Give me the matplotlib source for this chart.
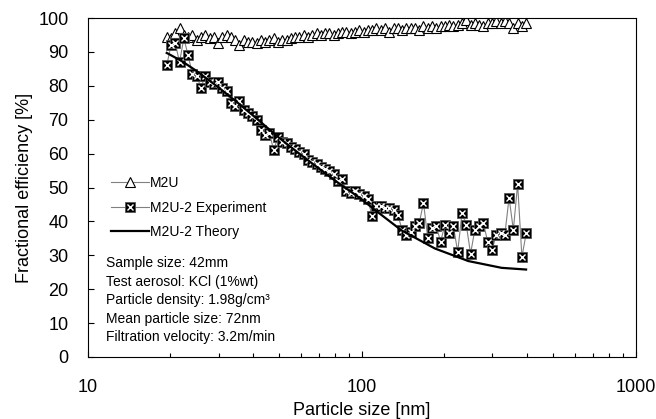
import matplotlib
matplotlib.use('Agg')
import matplotlib.pyplot as plt
from matplotlib.legend_handler import HandlerTuple
from matplotlib.lines import Line2D
from matplotlib.ticker import NullFormatter, LogLocator

plt.rcParams['font.family'] = ['Liberation Sans', 'DejaVu Sans']

# particle size channels [nm]
size_nm = [19.40, 20.11, 20.85, 21.61, 22.40, 23.22, 24.07, 24.96, 25.87, 26.82,
           27.80, 28.82, 29.87, 30.97, 32.10, 33.28, 34.50, 35.76, 37.07, 38.43,
           39.84, 41.30, 42.81, 44.38, 46.00, 47.69, 49.44, 51.25, 53.12, 55.07,
           57.09, 59.18, 61.35, 63.59, 65.92, 68.34, 70.84, 73.44, 76.13, 78.92,
           81.81, 84.81, 87.91, 91.14, 94.47, 97.94, 101.5, 105.2, 109.1, 113.1,
           117.2, 121.5, 126.0, 130.6, 135.4, 140.3, 145.5, 150.8, 156.3, 162.1,
           168.0, 174.2, 180.5, 187.2, 194.0, 201.1, 208.5, 216.1, 224.0, 232.2,
           240.7, 249.6, 258.7, 268.2, 278.0, 288.2, 298.7, 309.7, 321.0, 332.8,
           345.0, 357.6, 370.7, 384.3, 398.4]

# M2U efficiency [%]
m2u = [94.5, 94, 95.5, 97, 95, 94.5, 95, 93.5, 94.5, 95,
       94, 94.5, 92.5, 94.5, 95, 94.5, 93.5, 92, 93.5, 93,
       93, 92.5, 93.5, 93, 93.5, 94, 93, 93.5, 93.5, 94,
       94.5, 94.5, 95, 94.5, 95, 95.5, 95, 95.5, 95.5, 95,
       95.5, 96, 96, 95.5, 96, 96.5, 96, 96.5, 96.5, 97,
       96.5, 97, 96, 97, 97, 96.5, 97, 97, 97, 96.5,
       97.5, 97, 97.5, 97, 97.5, 97.5, 98, 97.5, 98, 98.5,
       99.5, 98, 98.5, 98, 97.5, 98.5, 98.5, 99, 98.5, 99,
       98.5, 97, 98.5, 97.5, 98.5]

# M2U-2 experiment efficiency [%]
m2u2_exp = [86, 92, 92.5, 87, 94, 89, 83.5, 83, 79.5, 83,
            81, 80.5, 81, 79.5, 78.5, 75, 74, 75.5, 73, 72,
            71, 70, 67, 65.5, 66, 61, 65, 63.5, 63, 62,
            61.5, 60.5, 60, 58, 57.5, 57, 56, 55.5, 55, 54,
            52, 52.5, 49, 48.5, 49, 48, 47.5, 46.5, 41.5, 44.5,
            44.5, 44, 44, 43.5, 42, 37.5, 36, 37, 38.5, 39.5,
            45.5, 35, 38, 38.5, 34, 39, 36.5, 38.5, 31, 42.5,
            39, 30.5, 37.5, 38.5, 39.5, 34, 31.5, 36, 36.5, 36,
            47, 37.5, 51, 29.5, 36.5]

# M2U-2 theory
theory_nm = [19.4, 22, 25, 30, 35, 40, 50, 60, 70, 80, 100, 112, 140, 185, 245, 324, 398]
theory = [89.7, 87.3, 84.3, 79.5, 75.2, 71.3, 64.6, 59.6, 55.5, 52.0, 46.5, 43.3, 37.3, 32.0, 28.3, 26.3, 25.8]

info_lines = ['Sample size: 42mm',
              'Test aerosol: KCl (1%wt)',
              'Particle density: 1.98g/cm\u00b3',
              'Mean particle size: 72nm',
              'Filtration velocity: 3.2m/min']

fig = plt.figure(figsize=(6.56, 4.19), dpi=100)
ax = fig.add_axes([0.134, 0.148, 0.835, 0.809])

sq_style = dict(marker='s', ms=7.5, mfc='black', mec='#555555', mew=0.6)
x_style = dict(marker='x', ms=4.5, mec='white', mew=1.0)

h_m2u, = ax.plot(size_nm, m2u, color='#808080', lw=0.8, marker='^', ms=7,
                 mfc='white', mec='black', mew=0.8)
ax.plot(size_nm, m2u2_exp, color='#808080', lw=0.8)
ax.plot(size_nm, m2u2_exp, ls='none', **sq_style)
ax.plot(size_nm, m2u2_exp, ls='none', **x_style)
h_th, = ax.plot(theory_nm, theory, color='black', lw=1.6)

h_exp_line = Line2D([], [], color='#808080', lw=0.8, **sq_style)
h_exp_x = Line2D([], [], ls='none', **x_style)

ax.legend([h_m2u, (h_exp_line, h_exp_x), h_th],
          ['M2U', 'M2U-2 Experiment', 'M2U-2 Theory'],
          handler_map={tuple: HandlerTuple(ndivide=1, pad=0)},
          loc='upper left', bbox_to_anchor=(0.02, 0.57), frameon=False,
          fontsize=10, numpoints=1, handlelength=2.7, handletextpad=0.1,
          labelspacing=0.75)

ax.text(0.033, 0.297, '\n'.join(info_lines), transform=ax.transAxes,
        fontsize=10, va='top', ha='left', linespacing=1.4)

ax.set_xscale('log')
ax.set_xlim(10, 1000)
ax.set_ylim(0, 100)
ax.set_yticks(range(0, 101, 10))
ax.set_xticks([10, 100, 1000])
ax.set_xticklabels(['10', '100', '1000'])
ax.xaxis.set_minor_locator(LogLocator(base=10, subs=range(2, 10)))
ax.xaxis.set_minor_formatter(NullFormatter())
ax.tick_params(axis='both', which='major', direction='in', length=4,
               labelsize=13, width=0.8)
ax.tick_params(axis='x', which='minor', direction='in', length=3, width=0.8)
ax.tick_params(axis='x', which='major', pad=16)
ax.tick_params(axis='y', which='major', pad=14)
ax.set_xlabel('Particle size [nm]', fontsize=13, labelpad=4)
ax.set_ylabel('Fractional efficiency [%]', fontsize=13, labelpad=4)

plt.savefig('out.png', dpi=100)
